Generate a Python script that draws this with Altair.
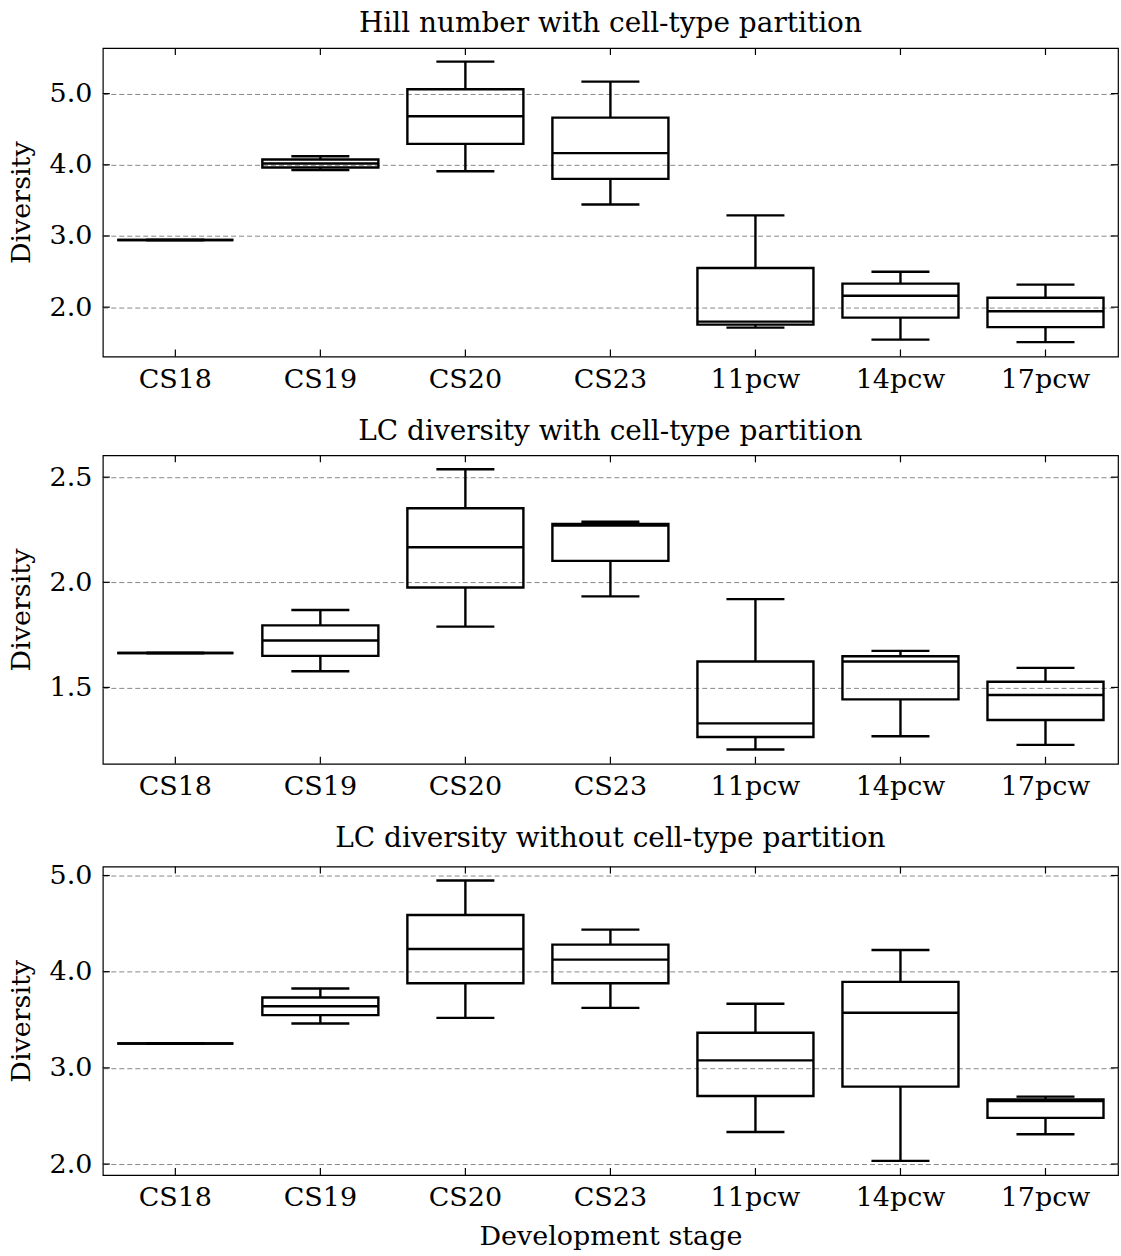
import altair as alt
import pandas as pd

stages = ["CS18", "CS19", "CS20", "CS23", "11pcw", "14pcw", "17pcw"]

titles = [
    "Hill number with cell-type partition",
    "LC diversity with cell-type partition",
    "LC diversity without cell-type partition",
]

# Panel 1: Hill number with cell-type partition
hill_min = [2.943, 3.925, 3.91, 3.443, 1.713, 1.544, 1.508]
hill_q1 = [2.943, 3.962, 4.293, 3.802, 1.755, 1.853, 1.72]
hill_med = [2.943, 4.018, 4.682, 4.163, 1.797, 2.16, 1.942]
hill_q3 = [2.943, 4.074, 5.06, 4.663, 2.55, 2.33, 2.133]
hill_max = [2.943, 4.12, 5.449, 5.168, 3.289, 2.498, 2.316]

# Panel 2: LC diversity with cell-type partition
lcw_min = [1.664, 1.577, 1.789, 1.933, 1.205, 1.268, 1.227]
lcw_q1 = [1.664, 1.65, 1.975, 2.102, 1.264, 1.443, 1.345]
lcw_med = [1.664, 1.723, 2.167, 2.27, 1.329, 1.623, 1.464]
lcw_q3 = [1.664, 1.795, 2.352, 2.277, 1.623, 1.648, 1.527]
lcw_max = [1.664, 1.868, 2.538, 2.288, 1.92, 1.674, 1.593]

# Panel 3: LC diversity without cell-type partition
lco_min = [3.254, 3.461, 3.52, 3.624, 2.334, 2.033, 2.31]
lco_q1 = [3.254, 3.548, 3.88, 3.88, 2.707, 2.805, 2.48]
lco_med = [3.254, 3.641, 4.236, 4.126, 3.078, 3.573, 2.656]
lco_q3 = [3.254, 3.731, 4.589, 4.281, 3.365, 3.894, 2.673]
lco_max = [3.254, 3.825, 4.948, 4.437, 3.666, 4.226, 2.701]

domains = [[1.307, 5.64], [1.137, 2.604], [1.886, 5.093]]
tick_values = [[2.0, 3.0, 4.0, 5.0], [1.5, 2.0, 2.5], [2.0, 3.0, 4.0, 5.0]]

W, H = 1017, 309
FONT = "DejaVu Serif"
FS = 27
TFS = 28
LW = 2.4
STEP = W / len(stages)
BOX_W = STEP * 0.8
CAP_W = STEP * 0.4
TICK_LEN = 7


def panel(title, mn, q1, md, q3, mx, domain, ticks, xtitle):
    df = pd.DataFrame({"stage": stages, "lo": mn, "q1": q1, "med": md, "q3": q3, "hi": mx})
    tdf = pd.DataFrame({"v": ticks})
    xaxis_kw = dict(labelAngle=0, ticks=False, domain=False, labelPadding=10,
                    titlePadding=13)
    xax = alt.Axis(title=xtitle, **xaxis_kw) if xtitle else alt.Axis(title=None, **xaxis_kw)
    xs = alt.X("stage:N", sort=stages,
               scale=alt.Scale(domain=stages, paddingInner=0, paddingOuter=0),
               axis=xax)
    ys = alt.Scale(domain=domain, nice=False, zero=False)
    yax = alt.Axis(title="Diversity", values=ticks, format=".1f", grid=True,
                   gridDash=[5, 3], gridColor="#888888", gridWidth=1,
                   ticks=False, domain=False, labelPadding=11,
                   minExtent=50, maxExtent=50, titlePadding=17)

    def Y(f):
        return alt.Y(f, scale=ys, axis=yax)

    base = alt.Chart(df)
    lower = base.mark_rule(color="black", strokeWidth=LW).encode(x=xs, y=Y("lo:Q"), y2="q1:Q")
    upper = base.mark_rule(color="black", strokeWidth=LW).encode(x=xs, y=Y("q3:Q"), y2="hi:Q")
    box = base.mark_bar(fill="transparent", stroke="black", strokeWidth=LW,
                        width=alt.RelativeBandSize(0.8)).encode(x=xs, y=Y("q1:Q"), y2="q3:Q")
    med = base.mark_tick(color="black", thickness=LW, size=BOX_W, opacity=1).encode(x=xs, y=Y("med:Q"))
    cap_lo = base.mark_tick(color="black", thickness=LW, size=CAP_W, opacity=1).encode(x=xs, y=Y("lo:Q"))
    cap_hi = base.mark_tick(color="black", thickness=LW, size=CAP_W, opacity=1).encode(x=xs, y=Y("hi:Q"))

    top_t = base.mark_rule(color="black", strokeWidth=1.2).encode(
        x=xs, y=alt.value(0), y2=alt.value(TICK_LEN))
    bot_t = base.mark_rule(color="black", strokeWidth=1.2).encode(
        x=xs, y=alt.value(H - TICK_LEN), y2=alt.value(H))
    tb = alt.Chart(tdf)
    left_t = tb.mark_rule(color="black", strokeWidth=1.2).encode(
        x=alt.value(0), x2=alt.value(TICK_LEN), y=Y("v:Q"))
    right_t = tb.mark_rule(color="black", strokeWidth=1.2).encode(
        x=alt.value(W - TICK_LEN), x2=alt.value(W), y=Y("v:Q"))

    return alt.layer(lower, upper, box, med, cap_lo, cap_hi, top_t, bot_t, left_t, right_t).properties(
        width=W, height=H,
        title=alt.TitleParams(text=title, font=FONT, fontSize=TFS, fontWeight="normal",
                              color="black", anchor="middle", baseline="bottom", offset=-19),
    )


p1 = panel(titles[0], hill_min, hill_q1, hill_med, hill_q3, hill_max, domains[0], tick_values[0], None)
p2 = panel(titles[1], lcw_min, lcw_q1, lcw_med, lcw_q3, lcw_max, domains[1], tick_values[1], None)
p3 = panel(titles[2], lco_min, lco_q1, lco_med, lco_q3, lco_max, domains[2], tick_values[2], "Development stage")

chart = alt.vconcat(p1, p2, p3, spacing=23).properties(
    padding={"left": 7, "top": 8, "right": 1, "bottom": 0},
    background="white",
).configure_axis(
    labelFont=FONT, labelFontSize=FS, labelColor="black",
    titleFont=FONT, titleFontSize=FS, titleColor="black", titleFontWeight="normal",
).configure_view(stroke="black", strokeWidth=1.2)

chart.save("out.html", embed_options={"renderer": "svg", "actions": False})
